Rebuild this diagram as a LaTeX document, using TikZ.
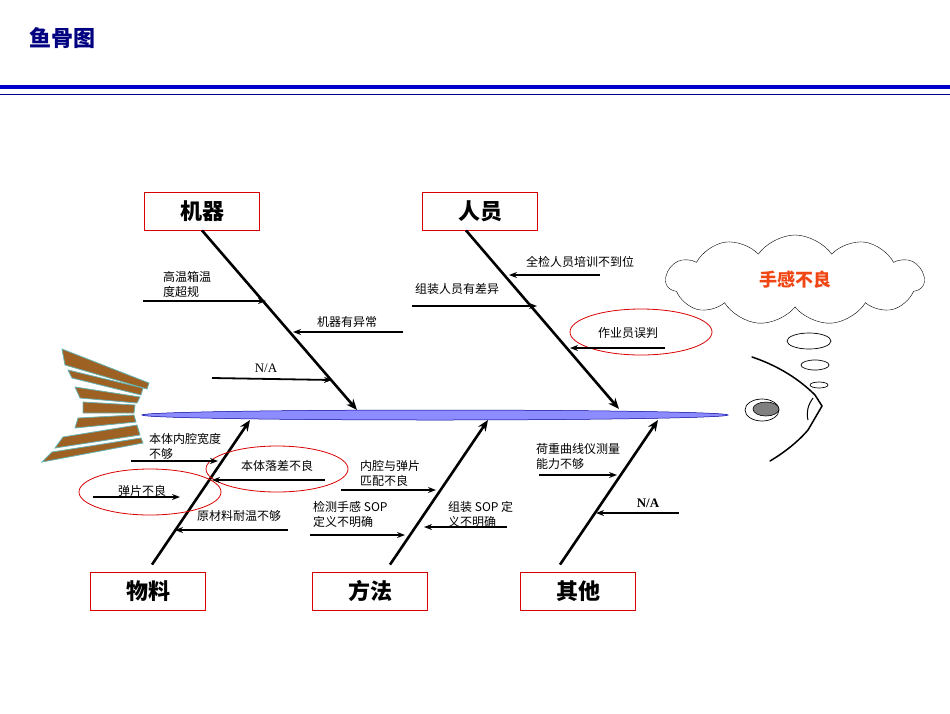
\documentclass[tikz,border=0pt]{standalone}
\usepackage{fontspec}
\setmainfont{Liberation Serif}
\newfontfamily\cjk{Noto Sans CJK SC}
\usetikzlibrary{arrows.meta,shapes.symbols}
\begin{document}
\begin{tikzpicture}[x=1pt,y=-1pt,
 cat/.style={draw=red!85!black,line width=0.8pt,minimum width=115pt,minimum height=38pt,font=\cjk\bfseries\fontsize{22}{24}\selectfont},
 bone/.style={line width=2.6pt,-{Stealth[length=11pt,width=9pt]}},
 sub/.style={line width=1.8pt,-{Stealth[length=8pt,width=6pt]}},
 lab/.style={font=\cjk\fontsize{12}{15}\selectfont,inner sep=0pt,align=left},
 oval/.style={draw=red!85!black,line width=0.8pt},
 fin/.style={fill=brown!70!black!80!orange,draw=teal!60,line width=0.8pt}]
\useasboundingbox (0,0) rectangle (950,713);
\node[font=\cjk\bfseries\fontsize{22}{24}\selectfont,text=blue!50!black] (title) at (62,38) {鱼骨图};
\draw[blue!80!black,line width=3.5pt] (0,87) -- (950,87);
\draw[blue!60!black,line width=0.6pt] (0,94) -- (950,94);
% tail
\foreach \p in {{(62,349)--(149,383)--(147,389)--(65,365)},{(68,370)--(143,388)--(141,395)--(72,378)},{(75,387)--(140,397)--(137,403)--(80,398)},{(83,402)--(135,405)--(134,413)--(83,413)},{(78,418)--(134,415)--(136,422)--(75,428)},{(63,437)--(137,425)--(140,435)--(55,448)},{(52,452)--(141,438)--(143,443)--(42,462)}}
 \draw[fin] \p -- cycle;
% spine
\path[draw=blue!60!black,fill=blue!45!white,line width=0.5pt] (435,415) ellipse [x radius=293,y radius=5];
\coordinate (s1) at (357,410); \coordinate (s2) at (619,409);
\coordinate (s3) at (250,420); \coordinate (s4) at (488,420); \coordinate (s5) at (658,420);
\node[cat] (m) at (202,211) {机器};
\node[cat] (p) at (480,211) {人员};
\node[cat] (w) at (148,591) {物料};
\node[cat] (f) at (370,591) {方法};
\node[cat] (q) at (578,591) {其他};
\draw[bone] (m.south) -- (s1);
\draw[bone] (p.south) ++(-14,0) -- (s2);
\draw[bone] (w.north) ++(4,-7) -- (s3);
\draw[bone] (f.north) ++(20,-7) -- (s4);
\draw[bone] (q.north) ++(-18,-7) -- (s5);
% ovals
\draw[oval] (641,332) ellipse [x radius=71,y radius=23];
\draw[oval] (277,469) ellipse [x radius=71,y radius=23];
\draw[oval] (150,492) ellipse [x radius=71,y radius=23];
% labels and arrows
\node[lab,anchor=west] (l1) at (163,284) {高温箱温\\度超规};
\coordinate (a1) at (143,301); \coordinate (b1) at (266,301); \draw[sub] (a1) -- (b1);
\node[lab] (l2) at (347,322) {机器有异常};
\coordinate (a2) at (403,332); \coordinate (b2) at (293,332); \draw[sub] (a2) -- (b2);
\node[lab,font=\fontsize{13}{14}\selectfont] (l3) at (266,368) {N/A};
\coordinate (a3) at (212,378); \coordinate (b3) at (332,380); \draw[sub] (a3) -- (b3);
\node[lab] (l4) at (580,262) {全检人员培训不到位};
\coordinate (a4) at (600,275); \coordinate (b4) at (509,275); \draw[sub] (a4) -- (b4);
\node[lab] (l5) at (457,289) {组装人员有差异};
\coordinate (a5) at (412,306); \coordinate (b5) at (537,306); \draw[sub] (a5) -- (b5);
\node[lab] (l6) at (628,333) {作业员误判};
\coordinate (a6) at (665,348); \coordinate (b6) at (570,348); \draw[sub] (a6) -- (b6);
\node[lab,anchor=west] (l7) at (149,446) {本体内腔宽度\\不够};
\coordinate (a7) at (131,461); \coordinate (b7) at (218,461); \draw[sub] (a7) -- (b7);
\node[lab] (l8) at (277,466) {本体落差不良};
\coordinate (a8) at (325,480); \coordinate (b8) at (212,480); \draw[sub] (a8) -- (b8);
\node[lab] (l9) at (142,491) {弹片不良};
\coordinate (a9) at (93,497); \coordinate (b9) at (180,497); \draw[sub] (a9) -- (b9);
\node[lab] (l10) at (239,516) {原材料耐温不够};
\coordinate (a10) at (288,530); \coordinate (b10) at (175,530); \draw[sub] (a10) -- (b10);
\node[lab,anchor=west] (l11) at (360,473) {内腔与弹片\\匹配不良};
\coordinate (a11) at (341,490); \coordinate (b11) at (436,490); \draw[sub] (a11) -- (b11);
\node[lab,anchor=west] (l12) at (313,514) {检测手感 SOP\\定义不明确};
\coordinate (a12) at (310,535); \coordinate (b12) at (405,535); \draw[sub] (a12) -- (b12);
\node[lab,anchor=west] (l13) at (448,514) {组装 SOP 定\\义不明确};
\coordinate (a13) at (507,527); \coordinate (b13) at (424,527); \draw[sub] (a13) -- (b13);
\node[lab,anchor=west] (l14) at (536,456) {荷重曲线仪测量\\能力不够};
\coordinate (a14) at (539,475); \coordinate (b14) at (617,475); \draw[sub] (a14) -- (b14);
\node[lab,font=\bfseries\fontsize{13}{14}\selectfont] (l15) at (648,503) {N/A};
\coordinate (a15) at (679,513); \coordinate (b15) at (596,513); \draw[sub] (a15) -- (b15);
% cloud & head
\node[cloud,draw,cloud puffs=11,cloud puff arc=110,aspect=2.8,minimum width=258pt,minimum height=90pt,inner sep=0pt,font=\cjk\bfseries\fontsize{18}{20}\selectfont,text={rgb,255:red,240;green,70;blue,20}] (cl) at (795,280) {手感不良};
\draw[line width=0.7pt] (809,341) ellipse [x radius=22,y radius=8];
\draw[line width=0.7pt] (815,365) ellipse [x radius=14,y radius=5];
\draw[line width=0.7pt] (819,385) ellipse [x radius=9,y radius=3];
\draw[line width=1.5pt,line cap=round] (752,357) .. controls (785,368) and (805,385) .. (815,395) -- (822,406) -- (808,430) .. controls (795,445) and (780,455) .. (770,461);
\draw[line width=1pt] (813,398) .. controls (808,405) and (806,412) .. (808,420);
\draw[line width=0.7pt,fill=white] (762,410) ellipse [x radius=17,y radius=11];
\draw[line width=0.6pt,fill=gray] (766,409) ellipse [x radius=13,y radius=7];
\end{tikzpicture}
\end{document}
